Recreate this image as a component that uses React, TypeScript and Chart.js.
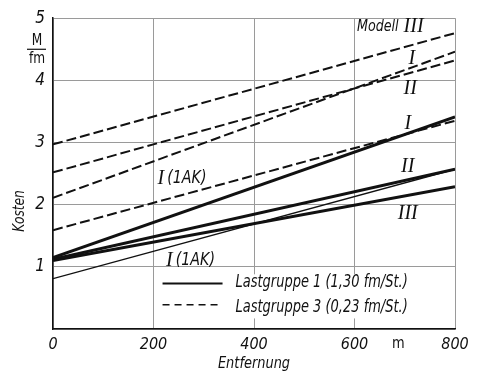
import React, { useEffect, useRef } from 'react';
import { Chart, registerables } from 'chart.js';

Chart.register(...registerables);

// Entfernung (m)
const distance = [0, 800];
const xTickValues = [0, 200, 400, 600, 800];
const yTickValues = [0, 1, 2, 3, 4, 5];

// Lastgruppe 1 (1,30 fm/St.) - solid lines, Kosten M/fm
const solidI = [1.15, 3.41];
const solidII = [1.12, 2.57];
const solidIII = [1.1, 2.29];
const solidI1AK = [0.81, 2.57];

// Lastgruppe 3 (0,23 fm/St.) - dashed lines
const dashedIII = [2.97, 4.76];
const dashedI = [2.11, 4.46];
const dashedII = [2.52, 4.32];
const dashedI1AK = [1.59, 3.35];

const legendLabels = ['Lastgruppe 1 (1,30 fm/St.)', 'Lastgruppe 3 (0,23 fm/St.)'];

const NARROW = "'Liberation Sans Narrow', 'DejaVu Sans Condensed', 'Roboto', sans-serif";
const SERIF = "'Liberation Serif', 'DejaVu Serif', serif";

const pts = (ys: number[]) => ys.map((y, i) => ({ x: distance[i], y }));

function squeezeText(
  ctx: CanvasRenderingContext2D,
  text: string,
  x: number,
  y: number,
  sx: number,
  align: CanvasTextAlign = 'left'
) {
  ctx.save();
  ctx.translate(x, y);
  ctx.scale(sx, 1);
  ctx.textAlign = align;
  ctx.fillText(text, 0, 0);
  ctx.restore();
  return ctx.measureText(text).width * sx;
}

const overlay = {
  id: 'overlay',
  afterDraw(chart: any) {
    const ctx = chart.ctx as CanvasRenderingContext2D;
    const xs = chart.scales.x;
    const ys = chart.scales.y;
    const X = (v: number) => xs.getPixelForValue(v);
    const Y = (v: number) => ys.getPixelForValue(v);
    ctx.save();
    ctx.fillStyle = '#111';
    ctx.textBaseline = 'middle';
    ctx.textAlign = 'center';

    // roman labels
    ctx.font = `italic 20px ${SERIF}`;
    const roman: [string, number, number][] = [
      ['I', 714, 4.35],
      ['II', 711, 3.86],
      ['I', 706, 3.31],
      ['II', 706, 2.61],
      ['III', 706, 1.85],
    ];
    roman.forEach(([t, x, y]) => ctx.fillText(t, X(x), Y(y)));

    // Modell III
    ctx.font = `italic 16px ${NARROW}`;
    const mx = X(605);
    const mw = squeezeText(ctx, 'Modell', mx, Y(4.86), 0.88);
    ctx.font = `italic 20px ${SERIF}`;
    ctx.textAlign = 'left';
    ctx.fillText('III', mx + mw + 5, Y(4.86));

    // I (1AK) labels
    const drawAK = (x: number, y: number) => {
      ctx.textAlign = 'left';
      ctx.font = `italic 20px ${SERIF}`;
      ctx.fillText('I', X(x), Y(y));
      const w = ctx.measureText('I').width;
      ctx.font = `italic 18px ${NARROW}`;
      squeezeText(ctx, '(1AK)', X(x) + w + 3, Y(y), 0.88);
    };
    drawAK(208, 2.42);
    drawAK(225, 1.1);

    // legend box
    const lx = X(218);
    const rx = X(798);
    const ty = Y(0.88);
    const by = Y(0.17);
    ctx.fillStyle = '#fff';
    ctx.fillRect(lx - 4, ty, rx - lx + 4, by - ty);
    ctx.strokeStyle = '#111';
    const row1 = Y(0.73);
    const row2 = Y(0.39);
    ctx.lineWidth = 2;
    ctx.beginPath();
    ctx.moveTo(lx, row1);
    ctx.lineTo(lx + 60, row1);
    ctx.stroke();
    ctx.lineWidth = 1.5;
    ctx.setLineDash([7, 5]);
    ctx.beginPath();
    ctx.moveTo(lx, row2);
    ctx.lineTo(lx + 60, row2);
    ctx.stroke();
    ctx.setLineDash([]);
    ctx.fillStyle = '#111';
    ctx.font = `italic 17px ${NARROW}`;
    squeezeText(ctx, legendLabels[0], lx + 73, row1 - 1, 0.85);
    squeezeText(ctx, legendLabels[1], lx + 73, row2 + 3, 0.85);

    // unit labels
    ctx.font = `16px ${NARROW}`;
    squeezeText(ctx, 'm', X(687), xs.top + 15, 0.9, 'center');
    const ux = xs.left - 14;
    const uy = Y(4.5);
    ctx.font = `15px ${NARROW}`;
    squeezeText(ctx, 'M', ux - 2, uy - 8, 0.9, 'center');
    squeezeText(ctx, 'fm', ux - 2, uy + 10, 0.9, 'center');
    ctx.lineWidth = 1.2;
    ctx.beginPath();
    ctx.moveTo(ux - 12, uy);
    ctx.lineTo(ux + 7, uy);
    ctx.stroke();

    // axis titles
    ctx.font = `italic 16px ${NARROW}`;
    squeezeText(ctx, 'Entfernung', X(400), 364, 0.9, 'center');
    ctx.save();
    ctx.translate(20, Y(1.9));
    ctx.rotate(-Math.PI / 2);
    squeezeText(ctx, 'Kosten', 0, 0, 0.85, 'center');
    ctx.restore();
    ctx.restore();
  },
};

export default function App() {
  const ref = useRef<HTMLCanvasElement | null>(null);
  useEffect(() => {
    if (!ref.current) return;
    const solid = { borderColor: '#111', borderWidth: 3, pointRadius: 0, fill: false };
    const dashed = { borderColor: '#111', borderWidth: 2, borderDash: [10, 4], pointRadius: 0, fill: false };
    const chart = new Chart(ref.current, {
      type: 'line',
      data: {
        datasets: [
          { label: 'Lastgruppe 3 III', data: pts(dashedIII), ...dashed },
          { label: 'Lastgruppe 3 I', data: pts(dashedI), ...dashed },
          { label: 'Lastgruppe 3 II', data: pts(dashedII), ...dashed },
          { label: 'Lastgruppe 3 I (1AK)', data: pts(dashedI1AK), ...dashed },
          { label: 'Lastgruppe 1 I', data: pts(solidI), ...solid },
          { label: 'Lastgruppe 1 II', data: pts(solidII), ...solid },
          { label: 'Lastgruppe 1 III', data: pts(solidIII), ...solid },
          { label: 'Lastgruppe 1 I (1AK)', data: pts(solidI1AK), ...solid, borderWidth: 1.4 },
        ] as any,
      },
      options: {
        animation: false,
        responsive: false,
        devicePixelRatio: 1,
        layout: { padding: { top: 13, right: 26, left: 0, bottom: 0 } },
        plugins: { legend: { display: false }, tooltip: { enabled: false } },
        scales: {
          x: {
            type: 'linear',
            min: 0,
            max: 800,
            afterBuildTicks: (s: any) => {
              s.ticks = xTickValues.map((v) => ({ value: v }));
            },
            afterFit: (s: any) => {
              s.height = 47;
            },
            ticks: {
              color: '#111',
              padding: 6,
              maxRotation: 0,
              font: { family: NARROW, size: 16, style: 'italic' },
              callback: (v: any) => String(v),
            },
            grid: { color: '#9a9a9a', lineWidth: 1, drawTicks: false },
            border: { color: '#111', width: 1.5 },
          },
          y: {
            type: 'linear',
            min: 0,
            max: 5,
            afterBuildTicks: (s: any) => {
              s.ticks = yTickValues.map((v) => ({ value: v }));
            },
            afterFit: (s: any) => {
              s.width = 53;
            },
            ticks: {
              color: '#111',
              padding: 8,
              font: { family: NARROW, size: 17, style: 'italic' },
              callback: (v: any) => (v === 0 ? '' : String(v)),
            },
            grid: { color: '#9a9a9a', lineWidth: 1, drawTicks: false },
            border: { color: '#111', width: 1.5 },
          },
        },
      } as any,
      plugins: [overlay],
    });
    return () => chart.destroy();
  }, []);
  return (
    <div style={{ position: 'fixed', left: 0, top: 0, width: 481, height: 376, background: '#fff' }}>
      <canvas ref={ref} width={481} height={376} style={{ width: 481, height: 376 }} />
    </div>
  );
}
